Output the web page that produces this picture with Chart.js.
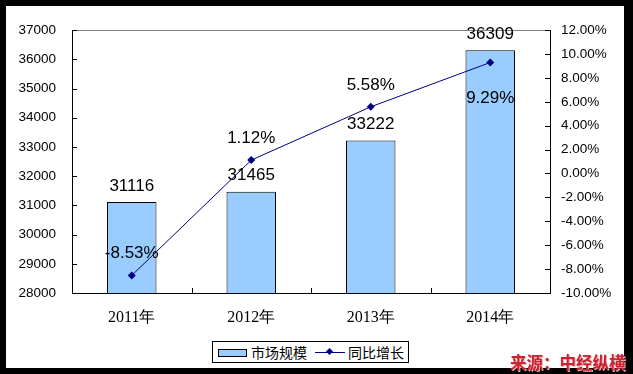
<!DOCTYPE html>
<html>
<head>
<meta charset="utf-8">
<script src="https://cdn.jsdelivr.net/npm/chart.js@4.4.1/dist/chart.umd.min.js"></script>
<style>
    html, body { margin: 0; padding: 0; background: #000; }
    #marc { position: absolute; left: 6px; top: 6px; width: 618px; height: 362px; background: #fff; }
    #grafic { position: absolute; left: 0; top: 0; }
    #llegenda { position: absolute; left: 212px; top: 341px; width: 195px; height: 20px; border: 1px solid #000; background: #fff;
        font: 14px "Noto Sans CJK SC", sans-serif; color: #000; }
    #llegenda span { position: absolute; top: 0; line-height: 20px; }
    .mostra-barra { position: absolute; left: 5px; top: 7px; width: 27px; height: 6px; background: #99ccff; border: 1px solid #000; }
    .mostra-linia { position: absolute; left: 102px; top: 10px; width: 30px; height: 1px; background: #000080; }
    .mostra-punt { position: absolute; left: 114px; top: 7px; width: 5px; height: 5px; background: #000080; transform: rotate(45deg); }
    #font { position: absolute; left: 510px; top: 350px; font: bold 16.5px "Noto Sans CJK SC", sans-serif; color: #cc2233;
        text-shadow: 1px 1px 0 #e8b0b0; white-space: nowrap; }
</style>
</head>
<body>
<div id="marc"><canvas id="grafic" width="618" height="362"></canvas></div>
<div id="llegenda">
    <div class="mostra-barra"></div><span style="left:38px">市场规模</span>
    <div class="mostra-linia"></div><div class="mostra-punt"></div><span style="left:135px">同比增长</span>
</div>
<div id="font">来源：中经纵横</div>
<script>
// DADES
const anys = ['2011年', '2012年', '2013年', '2014年'];
const mercat = [31116, 31465, 33222, 36309];
const creixement = [-8.53, 1.12, 5.58, 9.29];
const etiquetesCreixement = ['-8.53%', '1.12%', '5.58%', '9.29%'];

// posicio de les etiquetes de la linia (true = a sota del punt)
const etiquetaSota = [false, false, false, true];

const fontSans = '"Liberation Sans", Arial, sans-serif';

// marques dels eixos cap a dins + linia gris superior + etiquetes de dades
const dibuixExtra = {
    id: 'dibuixExtra',
    afterDatasetsDraw(chart) {
        const ctx = chart.ctx;
        const a = chart.chartArea;
        const x = chart.scales.x, y = chart.scales.y, y1 = chart.scales.y1;
        ctx.save();
        ctx.strokeStyle = '#808080';
        ctx.lineWidth = 1;
        ctx.beginPath();
        ctx.moveTo(a.left, Math.round(a.top) + 0.5);
        ctx.lineTo(a.right, Math.round(a.top) + 0.5);
        ctx.stroke();

        ctx.strokeStyle = '#000';
        ctx.beginPath();
        y.ticks.forEach(t => {
            const py = Math.round(y.getPixelForValue(t.value)) + 0.5;
            ctx.moveTo(a.left, py); ctx.lineTo(a.left + 5, py);
        });
        y1.ticks.forEach(t => {
            const py = Math.round(y1.getPixelForValue(t.value)) + 0.5;
            ctx.moveTo(a.right - 5, py); ctx.lineTo(a.right, py);
        });
        for (let i = 0; i < anys.length - 1; i++) {
            const px = Math.round((x.getPixelForTick(i) + x.getPixelForTick(i + 1)) / 2) + 0.5;
            ctx.moveTo(px, a.bottom); ctx.lineTo(px, a.bottom - 5);
        }
        ctx.stroke();

        ctx.fillStyle = '#000';
        ctx.font = '17px ' + fontSans;
        ctx.textAlign = 'center';
        ctx.textBaseline = 'middle';
        chart.getDatasetMeta(1).data.forEach((barra, i) => {
            ctx.fillText(String(mercat[i]), barra.x, barra.y - 16);
        });
        chart.getDatasetMeta(0).data.forEach((punt, i) => {
            ctx.fillText(etiquetesCreixement[i], punt.x, etiquetaSota[i] ? punt.y + 36 : punt.y - 22);
        });
        ctx.restore();
    }
};

new Chart(document.getElementById('grafic'), {
    data: {
        labels: anys,
        datasets: [
            {
                type: 'line', label: '同比增长', data: creixement, yAxisID: 'y1', order: 1,
                borderColor: '#000080', borderWidth: 1, backgroundColor: '#000080',
                pointStyle: 'rectRot', pointRadius: 4, pointBackgroundColor: '#000080', pointBorderWidth: 0,
                tension: 0
            },
            {
                type: 'bar', label: '市场规模', data: mercat, yAxisID: 'y', order: 2,
                backgroundColor: '#99ccff', borderColor: '#000', borderWidth: 1,
                categoryPercentage: 1, barPercentage: 0.414
            }
        ]
    },
    options: {
        responsive: false,
        animation: false,
        events: [],
        layout: { padding: { top: 22, left: 0, right: 0, bottom: 0 } },
        plugins: { legend: { display: false }, tooltip: { enabled: false } },
        scales: {
            x: {
                offset: true,
                grid: { display: false, drawTicks: false },
                border: { display: true, color: '#000', width: 1 },
                ticks: { color: '#000', padding: 15, font: { family: '"Liberation Serif", "Times New Roman", serif', size: 16 } },
                afterFit: s => { s.height = 75; }
            },
            y: {
                position: 'left', min: 28000, max: 37000,
                grid: { drawOnChartArea: false, drawTicks: false },
                border: { display: true, color: '#000', width: 1 },
                ticks: { stepSize: 1000, color: '#000', padding: 16, font: { family: fontSans, size: 13.5 },
                    callback: v => String(v) },
                afterFit: s => { s.width = 66; }
            },
            y1: {
                position: 'right', min: -10, max: 12,
                grid: { drawOnChartArea: false, drawTicks: false },
                border: { display: true, color: '#000', width: 1 },
                ticks: { stepSize: 2, color: '#000', padding: 11, font: { family: fontSans, size: 13.5 },
                    callback: v => v.toFixed(2) + '%' },
                afterFit: s => { s.width = 74; }
            }
        }
    },
    plugins: [dibuixExtra]
});
</script>
</body>
</html>
